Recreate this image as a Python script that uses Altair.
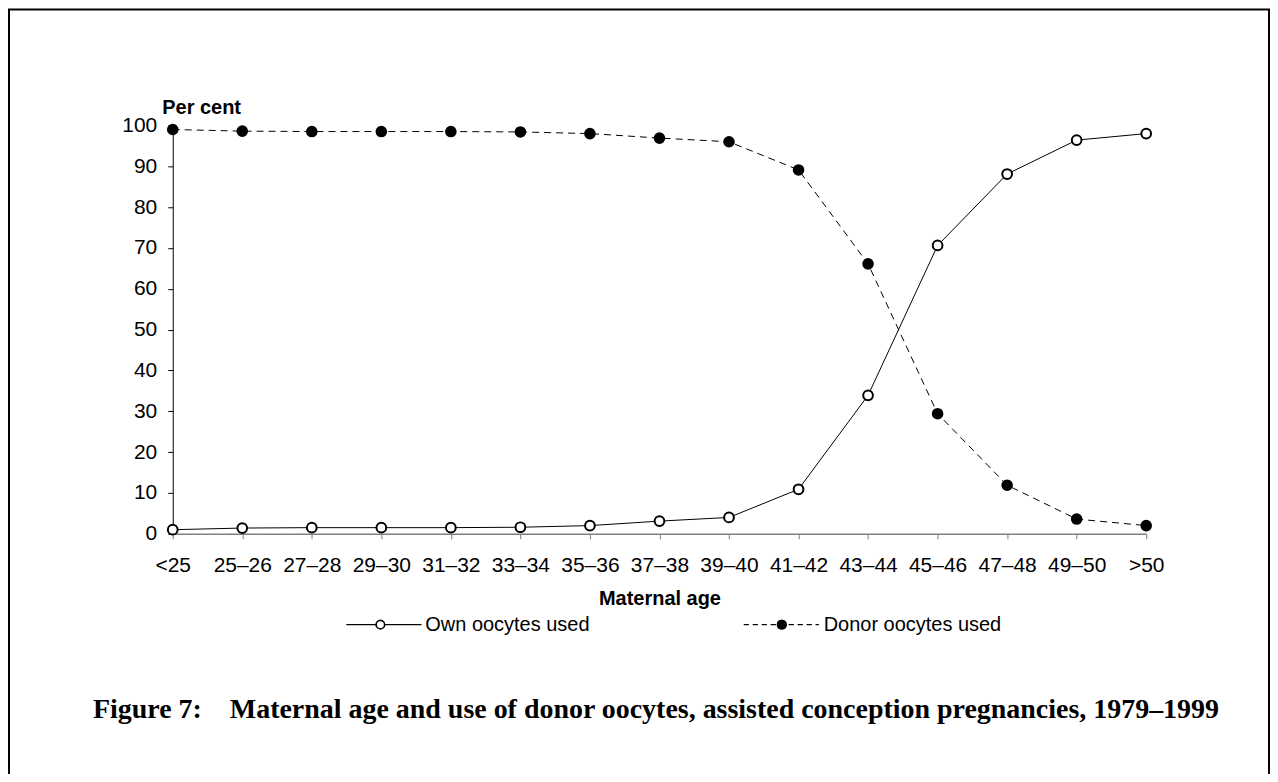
import altair as alt
import pandas as pd

ages = ["<25", "25–26", "27–28", "29–30", "31–32", "33–34", "35–36", "37–38",
        "39–40", "41–42", "43–44", "45–46", "47–48", "49–50", ">50"]
own = [1.0, 1.4, 1.5, 1.5, 1.5, 1.6, 2.0, 3.1, 4.0, 10.9, 33.9, 70.6, 88.1, 96.4, 98.0]
donor = [99.0, 98.6, 98.5, 98.5, 98.5, 98.4, 98.0, 96.9, 96.0, 89.1, 66.1, 29.4, 11.9, 3.6, 2.0]
series_names = ["Own oocytes used", "Donor oocytes used"]
title_text = "Figure 7:\u00a0\u00a0\u00a0\u00a0Maternal age and use of donor oocytes, assisted conception pregnancies, 1979–1999"

W, H = 975, 409
SANS = "Liberation Sans"
FS = 21

own_df = pd.DataFrame({"age": ages, "value": own})
donor_df = pd.DataFrame({"age": ages, "value": donor})

x_enc = alt.X("age:O", sort=ages, scale=alt.Scale(type="point", padding=0),
              axis=alt.Axis(title="Maternal age", labelAngle=0, labelFont=SANS, labelFontSize=FS,
                            labelColor="black", labelPadding=16, tickSize=5, tickColor="#808080",
                            domainColor="#808080", domainWidth=1.5, titleFont=SANS, titleFontSize=20,
                            titleFontWeight="bold", titleColor="black", titlePadding=13))
y_enc = alt.Y("value:Q", scale=alt.Scale(domain=[0, 100], nice=False),
              axis=alt.Axis(title="Per cent", values=list(range(0, 101, 10)), labelFont=SANS,
                            labelFontSize=FS, labelColor="black", labelPadding=11, tickSize=5,
                            tickColor="black", domainColor="black", titleAngle=0, titleAlign="left",
                            titleBaseline="middle", titleX=-11, titleY=-18, titleFont=SANS,
                            titleFontSize=20, titleFontWeight="bold", titleColor="black"))

own_line = alt.Chart(own_df).mark_line(color="black", strokeWidth=1).encode(x=x_enc, y=y_enc)
donor_line = alt.Chart(donor_df).mark_line(color="black", strokeWidth=1, strokeDash=[7, 5]).encode(
    x=alt.X("age:O", sort=ages), y="value:Q")
own_pts = alt.Chart(own_df).mark_point(shape="circle", size=95, filled=True, fill="white",
                                       stroke="black", strokeWidth=2, opacity=1).encode(
    x=alt.X("age:O", sort=ages), y="value:Q")
donor_pts = alt.Chart(donor_df).mark_point(shape="circle", size=135, filled=True, fill="black",
                                           opacity=1).encode(
    x=alt.X("age:O", sort=ages), y="value:Q")

# legend (decoration)
LY = 500
leg_df = pd.DataFrame({"name": series_names})
leg_own_line = alt.Chart(leg_df).mark_rule(color="black", strokeWidth=1).encode(
    x=alt.value(174), x2=alt.value(249), y=alt.value(LY))
leg_own_pt = alt.Chart(leg_df).mark_point(shape="circle", size=70, filled=True, fill="white",
                                          stroke="black", strokeWidth=1.5, opacity=1).encode(
    x=alt.value(208), y=alt.value(LY))
leg_own_txt = alt.Chart(pd.DataFrame({"name": [series_names[0]]})).mark_text(
    align="left", baseline="middle", font=SANS, fontSize=20, color="black").encode(
    x=alt.value(253), y=alt.value(LY), text="name:N")
leg_don_line = alt.Chart(leg_df).mark_rule(color="black", strokeWidth=1, strokeDash=[5, 4]).encode(
    x=alt.value(572), x2=alt.value(647), y=alt.value(LY))
leg_don_pt = alt.Chart(leg_df).mark_point(shape="circle", size=100, filled=True, fill="black",
                                          opacity=1).encode(x=alt.value(610), y=alt.value(LY))
leg_don_txt = alt.Chart(pd.DataFrame({"name": [series_names[1]]})).mark_text(
    align="left", baseline="middle", font=SANS, fontSize=20, color="black").encode(
    x=alt.value(652), y=alt.value(LY), text="name:N")

title = alt.Chart(pd.DataFrame({"t": [title_text]})).mark_text(
    align="center", baseline="middle", font="Liberation Serif", fontSize=28, fontWeight="bold",
    color="black").encode(x=alt.value(484), y=alt.value(586), text="t:N")

border = alt.Chart(pd.DataFrame({"b": [0]})).mark_rect(
    fillOpacity=0, stroke="black", strokeWidth=2, clip=False).encode(
    x=alt.value(-164), x2=alt.value(1098), y=alt.value(-116), y2=alt.value(700))

chart = alt.layer(
    border, own_line, donor_line, own_pts, donor_pts,
    leg_own_line, leg_own_pt, leg_own_txt, leg_don_line, leg_don_pt, leg_don_txt, title
).properties(
    width=W, height=H,
    autosize=alt.AutoSizeParams(type="none"),
    padding={"left": 165, "top": 117, "right": 124, "bottom": 240},
    background="white",
).configure_view(stroke=None).configure_axis(grid=False)

chart.save("out.html", embed_options={"renderer": "svg", "actions": False})
